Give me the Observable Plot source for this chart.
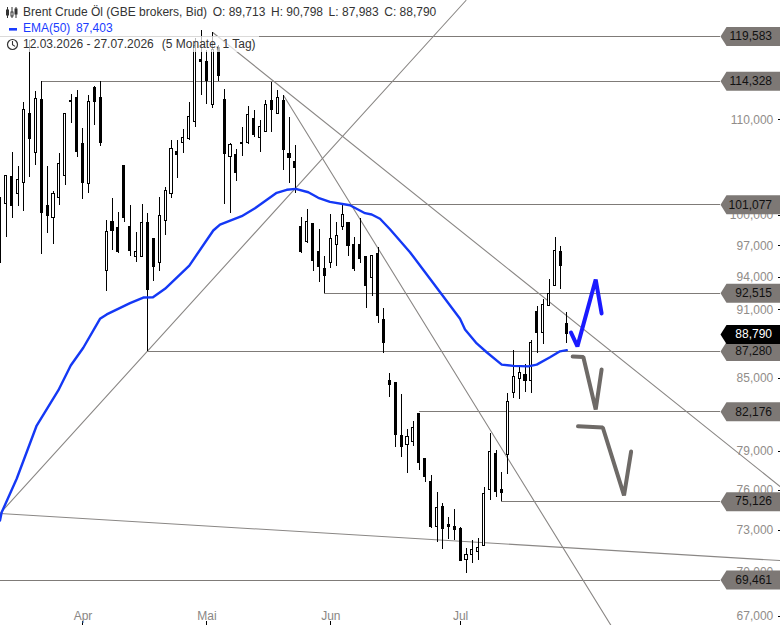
<!DOCTYPE html>
<html><head><meta charset="utf-8">
<script src="https://cdn.jsdelivr.net/npm/d3@7"></script>
<script src="https://cdn.jsdelivr.net/npm/@observablehq/plot@0.6"></script>
<style>
html,body{margin:0;padding:0;background:#fff;overflow:hidden;font-family:"Liberation Sans",Arial,sans-serif}
#wrap{position:relative;width:780px;height:625px}
#wrap svg.chart{position:absolute;left:0;top:0}
.hl{position:absolute;left:0;font-size:12px;line-height:16px;height:16px;white-space:pre;padding-left:23px;background:rgba(255,255,255,.72);color:#333}
.hl span{margin-left:5.6px}
.ic{position:absolute;left:0;top:0}
</style></head><body><div id="wrap"></div>
<script>
const high=[101.80,103.97,106.49,105.01,111.94,119.09,113.18,114.32,105.01,102.42,106.38,110.72,112.83,113.29,109.07,112.72,113.74,114.32,99.49,101.70,100.29,105.11,101.00,98.30,101.10,100.19,97.71,101.80,102.83,107.77,107.77,108.96,111.94,119.33,120.29,117.91,120.05,118.49,113.40,107.45,106.81,109.18,111.50,111.05,109.95,112.16,114.20,113.29,112.72,110.28,107.24,99.79,100.59,99.19,98.60,95.97,100.09,99.29,101.10,99.29,97.81,99.69,95.88,96.07,96.84,91.12,85.39,84.54,83.62,80.74,81.39,82.04,78.43,77.11,75.82,74.99,73.94,74.53,73.21,71.68,72.26,72.41,76.20,80.42,79.06,77.35,83.70,87.37,86.07,86.15,88.25,91.30,91.94,93.79,97.81,96.94,90.76];
const bodyTop=[101.30,103.97,103.86,103.65,111.05,110.61,112.38,112.27,100.90,102.11,105.22,110.61,112.16,112.50,107.34,112.05,113.52,112.50,98.40,99.39,98.70,105.11,98.80,96.36,99.29,99.29,97.71,99.89,102.42,106.91,106.59,108.09,110.38,118.49,116.85,116.62,117.91,118.26,112.27,107.24,106.17,107.45,110.50,110.06,109.18,111.61,112.16,112.50,112.16,106.28,105.53,98.80,99.39,99.19,96.36,94.83,97.62,98.01,99.99,99.29,97.13,97.13,95.88,96.07,96.26,90.12,84.71,84.54,80.18,80.10,80.90,81.96,78.36,76.65,74.68,74.76,73.36,73.21,73.13,71.26,71.61,71.75,75.67,78.98,78.75,75.97,83.03,85.13,85.47,85.30,87.99,90.76,91.48,92.49,96.55,96.36,89.71];
const bodyBottom=[97.62,101.10,100.90,102.21,103.34,107.88,106.38,100.19,99.89,99.69,101.80,103.97,112.05,106.49,103.34,103.14,112.05,107.55,94.55,98.50,96.36,99.69,96.55,95.97,95.88,92.86,95.02,95.40,99.49,102.21,106.17,107.55,107.88,109.73,116.62,114.32,111.61,114.89,106.28,105.96,104.28,107.34,107.45,108.31,108.09,108.74,111.05,110.61,106.70,105.85,104.80,96.36,97.33,95.59,95.02,94.08,95.40,97.13,98.80,97.03,94.74,95.78,93.23,93.98,90.40,87.99,84.37,80.26,79.38,79.46,79.70,78.12,76.96,73.21,73.21,73.13,73.28,73.06,70.83,70.90,71.26,71.47,71.90,75.97,75.82,75.74,78.67,83.70,84.96,84.71,84.79,88.87,88.87,91.30,93.23,95.11,88.79];
const low=[95.30,97.81,99.69,100.90,100.39,103.86,105.11,96.17,98.21,97.13,101.00,103.03,109.62,105.96,101.60,102.21,109.40,107.13,92.68,96.55,96.26,99.29,95.97,95.40,95.88,87.28,93.61,94.55,98.01,101.70,103.76,106.38,107.77,109.18,112.72,111.72,111.27,114.32,101.10,100.19,103.45,106.07,107.34,108.09,106.49,108.63,108.63,110.61,104.59,103.24,102.21,96.26,97.23,94.55,93.51,92.49,94.83,95.02,98.50,95.97,94.55,95.30,91.12,92.21,89.76,87.11,83.36,79.30,78.51,77.27,79.38,77.50,76.58,73.13,72.12,71.61,72.33,72.26,70.76,69.92,70.62,70.83,71.83,75.21,75.44,75.13,77.19,83.28,83.20,83.78,83.70,87.11,87.90,91.30,93.14,92.86,87.99];
const rising=[0,1,3,4,6,9,10,11,15,18,23,24,27,28,29,31,32,33,36,39,42,44,45,47,52,56,57,58,63,69,70,74,79,80,81,82,83,86,87,88,90,92,93,94];

const emaIndex=[-0.07,0.22,2.76,6.15,9.81,11.92,14.05,16.88,18.02,21.97,24.22,25.86,27.9,32.02,36.08,37.22,40.9,43.15,46.83,48.53,50.05,52.19,53.88,55.86,59.25,61.8,62.93,64.34,66.03,69.42,72.81,77.9,78.75,80.73,82.42,84.97,86.93,89.47,90.9,93.15,94.85,96];
const emaValue=[73.72,74.33,76.86,81.06,83.95,86.07,87.61,90.18,90.58,91.60,92.12,92.15,92.93,95.11,98.50,99.09,99.92,100.72,102.28,102.59,102.69,102.34,101.77,101.36,101.02,100.22,100.09,99.66,98.62,96.39,93.86,90.18,89.23,87.99,87.22,86.15,86.04,86.00,86.15,86.78,87.30,87.40];

const levelValue=[119.583,114.328,101.077,92.515,87.280,82.176,75.126,69.461];
const levelStart=[-0.07,7,58,55,25,71,85,-0.07];
const lastPrice=88.790;
const yTickValues=[67,70,73,76,79,85,91,94,97,100,110];
const monthIndex=[14,35,56,78];
const monthLabel=["Apr","Mai","Jun","Jul"];

const trendLines=[
 [[-0.07,74.24],[78.9,123.95]],
 [[-0.07,74.24],[132.15,70.83]],
 [[36.0,120.05],[132.15,76.27]],
 [[48.0,112.72],[103.5,66.38]]
];
const arrowBlue=[[96.7,88.96],[97.8,87.73],[100.9,93.79],[101.9,90.67]];
const arrowGrey1=[[97.0,86.85],[98.8,86.80],[100.9,82.37],[101.9,85.73]];
const arrowGrey2=[[97.9,81.0],[102.1,80.9],[105.7,75.59],[106.9,78.98]];

const fmt=v=>v.toFixed(3).replace(".",",");
const riseSet=new Set(rising);
const candles=d3.range(high.length).map(i=>({i,h:high[i],t:bodyTop[i],b:bodyBottom[i],l:low[i],up:riseSet.has(i)}));
const levels=levelValue.map((v,k)=>({v,s:levelStart[k]}));
const ema=emaIndex.map((x,k)=>[x,emaValue[k]]);
const tagSymbol={draw(c){c.moveTo(0,0);c.lineTo(6,-9.5);c.lineTo(60,-9.5);c.lineTo(60,9.5);c.lineTo(6,9.5);c.closePath();}};
const xTag=122.05,xText=130.78,xTick=131.67,xMin=0.017,xEnd=132.22;
const tagColor="#7d7875";

const plot=Plot.plot({
 width:780,height:625,margin:0,
 style:{background:"#fff",fontFamily:'"Liberation Sans",Arial,sans-serif',fontSize:"12px"},
 x:{type:"linear",domain:[xMin,xEnd],range:[0,780],axis:null},
 y:{type:"log",domain:[66.38,123.95],range:[625,0],axis:null},
 marks:[
  Plot.axisY(yTickValues,{anchor:"left",x:xTick,tickSize:0,tickPadding:4,tickFormat:fmt,color:"#908c89",fill:"#908c89",fontSize:12}),
  Plot.axisY(yTickValues,{anchor:"right",x:xTick,tickSize:4,tickFormat:()=>"",stroke:"#000",shapeRendering:"crispEdges"}),
  Plot.axisX(monthIndex,{anchor:"bottom",y:66.65,tickSize:4,tickFormat:()=>"",stroke:"#000",shapeRendering:"crispEdges"}),
  Plot.axisX(monthIndex,{anchor:"bottom",y:67.35,tickSize:0,tickPadding:0,tickFormat:i=>monthLabel[monthIndex.indexOf(i)],fill:"#8a8785",fontSize:12}),
  Plot.ruleY(levels,{y:"v",x1:"s",x2:xTag,stroke:"#7f7b78",strokeWidth:1,shapeRendering:"crispEdges"}),
  ...trendLines.map(t=>Plot.line(t,{x:"0",y:"1",stroke:"#8a8785",strokeWidth:1.1})),
  Plot.ruleX(candles,{x:"i",y1:"l",y2:"h",stroke:"#000",strokeWidth:1,shapeRendering:"crispEdges"}),
  Plot.rect(candles,{x1:d=>d.i-0.17,x2:d=>d.i+0.17,y1:"b",y2:"t",fill:d=>d.up?"#fff":"#000",stroke:"#000",strokeWidth:1,shapeRendering:"crispEdges"}),
  Plot.line(ema,{x:"0",y:"1",stroke:"#1438f5",strokeWidth:2.4,curve:"linear"}),
  Plot.line(arrowBlue,{x:"0",y:"1",stroke:"#1a1aff",strokeWidth:4,strokeLinejoin:"miter"}),
  Plot.line(arrowGrey1,{x:"0",y:"1",stroke:"#6e6a67",strokeWidth:4,strokeLinejoin:"miter"}),
  Plot.line(arrowGrey2,{x:"0",y:"1",stroke:"#6e6a67",strokeWidth:4,strokeLinejoin:"miter"}),
  Plot.dot(levelValue,{x:xTag,y:d=>d,symbol:tagSymbol,fill:tagColor,stroke:"none"}),
  Plot.dot([lastPrice],{x:xTag,y:d=>d,symbol:tagSymbol,fill:"#000",stroke:"none"}),
  Plot.text(levelValue,{x:xText,y:d=>d,text:fmt,textAnchor:"end",fill:"#111",fontSize:12}),
  Plot.text([lastPrice],{x:xText,y:d=>d,text:fmt,textAnchor:"end",fill:"#fff",fontSize:12})
 ]
});
plot.classList.add("chart");
const wrap=document.getElementById("wrap");
wrap.appendChild(plot);
const mk=(top,html,w,extra="")=>{const d=document.createElement("div");d.className="hl";d.style.cssText=`top:${top}px;width:${w}px;${extra}`;d.innerHTML=html;wrap.appendChild(d);};
mk(4,"Brent Crude Öl (GBE brokers, Bid)<span>O: 89,713</span><span>H: 90,798</span><span>L: 87,983</span><span>C: 88,790</span>",416);
mk(20,"EMA(50)<span>87,403</span>",95,"color:#1a3cff;");
mk(36,"12.03.2026 - 27.07.2026<span style='margin-left:8px'>(5 Monate, 1 Tag)</span>",236);
const ic=document.createElementNS("http://www.w3.org/2000/svg","svg");
ic.setAttribute("class","ic");ic.setAttribute("width",22);ic.setAttribute("height",54);
ic.style.position="absolute";
ic.innerHTML=`<g stroke="#333" fill="none"><path d="M7.5 7v11M12 7v11M16 7v11"/><rect x="6.5" y="10" width="2" height="5" fill="#333"/><rect x="11" y="12" width="2" height="4" fill="#fff"/><rect x="15" y="9" width="2" height="5" fill="#333"/><circle cx="12.5" cy="44.5" r="5" stroke-width="1.2"/><path d="M12.5 41v3.8l2.6 1.6" stroke-width="1.1"/></g><rect x="9" y="28" width="8" height="2.6" fill="#1a3cff"/>`;
wrap.appendChild(ic);
</script></body></html>
